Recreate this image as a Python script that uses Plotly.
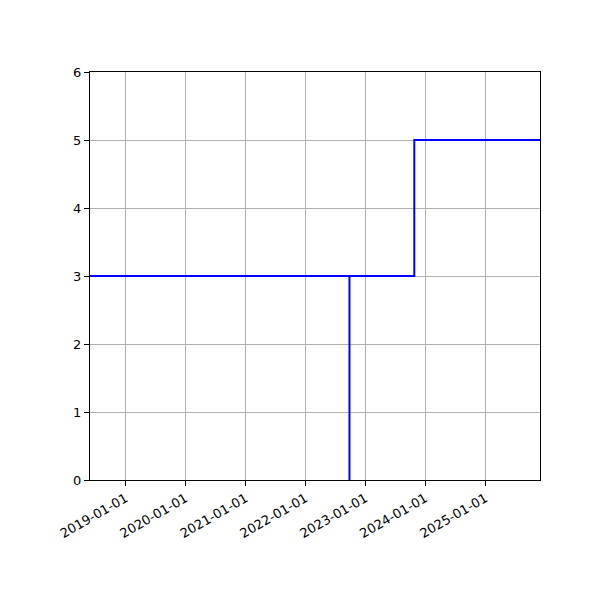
import plotly.graph_objects as go

# step line
step_dates = ["2018-05-29", "2023-10-26", "2023-10-26", "2025-11-30"]
step_values = [3, 3, 5, 5]

# vertical marker line
vline_dates = ["2022-09-26", "2022-09-26"]
vline_values = [0, 3]

tick_dates = ["2019-01-01", "2020-01-01", "2021-01-01", "2022-01-01",
              "2023-01-01", "2024-01-01", "2025-01-01"]
x_range = ["2018-05-29", "2025-11-30"]
y_range = [0, 6]

fig = go.Figure()

fig.add_trace(go.Scatter(
    x=step_dates, y=step_values,
    mode="lines",
    line=dict(color="#0000ff", width=2),
    showlegend=False
))

fig.add_trace(go.Scatter(
    x=vline_dates, y=vline_values,
    mode="lines",
    line=dict(color="#0000ff", width=2),
    showlegend=False
))

axis_style = dict(
    showline=True, linecolor="black", linewidth=1, mirror=True,
    ticks="outside", ticklen=5, tickcolor="black",
    showgrid=True, gridcolor="#b0b0b0", gridwidth=1,
    zeroline=False,
    tickfont=dict(family="DejaVu Sans", size=13, color="black"),
)

# page body adds an 8px offset, so margins are shifted to compensate
fig.update_layout(
    width=600, height=600,
    margin=dict(l=82, r=68, t=64, b=128),
    plot_bgcolor="white", paper_bgcolor="white",
    xaxis=dict(
        type="date", range=x_range,
        tickvals=tick_dates, ticktext=tick_dates,
        tickangle=-30,
        **axis_style
    ),
    yaxis=dict(range=y_range, dtick=1, **axis_style),
)

fig.write_html("out.html")
